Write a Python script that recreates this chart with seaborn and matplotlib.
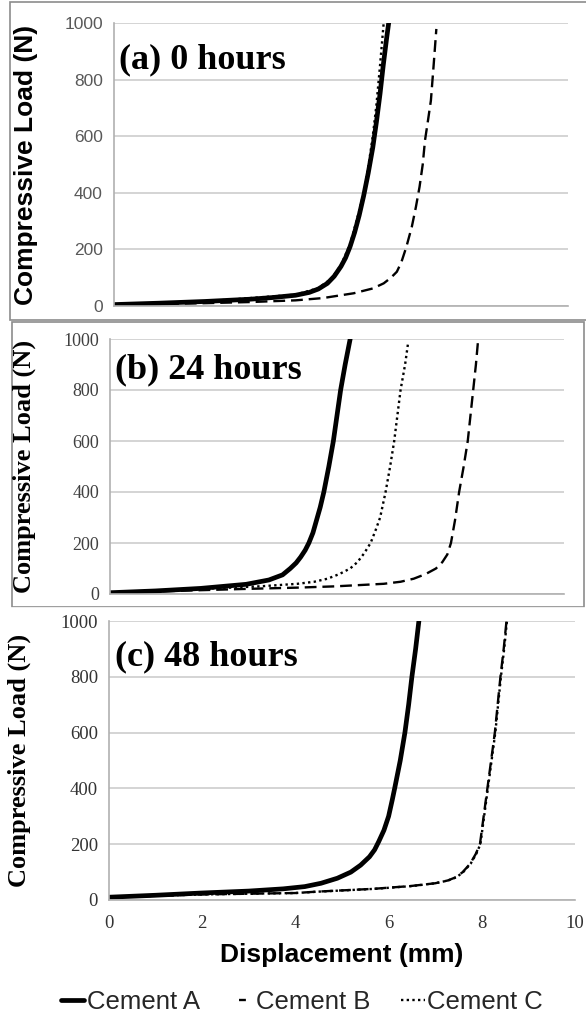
import numpy as np
import pandas as pd
import seaborn as sns
from matplotlib import pyplot as plt
from matplotlib.patches import Rectangle
from matplotlib.lines import Line2D

# ---- data (displacement mm, load N) ----
# (a) 0 hours
a0_x = [0, 1, 2, 3, 3.5, 4, 4.3, 4.5, 4.7, 4.85, 5.0, 5.1, 5.2, 5.3, 5.4, 5.5,
        5.6, 5.7, 5.78, 5.86, 5.93, 6.0, 6.05]
a0_y = [5, 10, 16, 24, 30, 38, 48, 60, 80, 105, 140, 170, 210, 260, 320, 390,
        470, 560, 650, 750, 850, 940, 1000]
b0_x = [0, 2, 3, 4, 4.6, 5.28, 5.7, 5.94, 6.1, 6.23, 6.33, 6.44, 6.56, 6.65,
        6.73, 6.8, 6.85, 6.92, 6.98, 7.04, 7.1]
b0_y = [4, 10, 14, 20, 28, 45, 62, 80, 100, 121, 155, 209, 280, 350, 421, 500,
        585, 660, 726, 850, 979]
c0_x = [0, 2, 4, 4.5, 4.8, 5.0, 5.2, 5.4, 5.5, 5.6, 5.7, 5.78, 5.86, 5.94]
c0_y = [5, 16, 40, 63, 98, 145, 218, 335, 400, 490, 600, 710, 850, 1000]

# (b) 24 hours
a24_x = [0, 1, 2, 3, 3.5, 3.8, 3.97, 4.1, 4.2, 4.3, 4.38, 4.47, 4.55, 4.63,
         4.71, 4.82, 4.92, 5.0, 5.08, 5.18, 5.29]
a24_y = [5, 12, 22, 38, 55, 75, 100, 122, 145, 172, 200, 240, 290, 340, 400,
         500, 600, 700, 800, 900, 1000]
b24_x = [0, 2, 3, 4.13, 4.96, 6.03, 6.4, 6.69, 6.95, 7.18, 7.32, 7.43, 7.51,
         7.6, 7.69, 7.79, 7.88, 7.94, 8.0, 8.06, 8.11]
b24_y = [5, 15, 20, 25, 30, 40, 48, 60, 78, 100, 125, 155, 200, 290, 400, 500,
         600, 700, 800, 900, 1000]
c24_x = [0, 1, 2, 3.3, 4.13, 4.5, 4.79, 5.05, 5.29, 5.45, 5.6, 5.74, 5.85,
         5.95, 6.07, 6.17, 6.26, 6.33, 6.4, 6.5, 6.57]
c24_y = [5, 12, 20, 30, 40, 48, 60, 78, 100, 125, 160, 200, 250, 300, 400,
         500, 600, 700, 800, 900, 990]

# (c) 48 hours
a48_x = [0, 1, 1.98, 3, 3.74, 4.2, 4.55, 4.9, 5.19, 5.4, 5.59, 5.7, 5.79, 5.9,
         6.0, 6.08, 6.13, 6.25, 6.35, 6.43, 6.5, 6.58, 6.65]
a48_y = [10, 17, 25, 32, 40, 48, 60, 78, 100, 125, 155, 180, 210, 250, 300,
         360, 400, 500, 600, 700, 800, 900, 1000]
b48_x = [0, 2, 4.0, 4.47, 5.67, 6.47, 7.0, 7.27, 7.45, 7.59, 7.75, 7.87, 7.96,
         8.04, 8.12, 8.2, 8.28, 8.34, 8.4, 8.47, 8.53]
b48_y = [10, 20, 25, 30, 40, 50, 60, 70, 82, 100, 130, 165, 200, 300, 400, 500,
         600, 700, 800, 900, 1000]
c48_x = [0, 2, 4.0, 4.5, 5.7, 6.5, 7.0, 7.28, 7.46, 7.6, 7.76, 7.88, 7.97,
         8.05, 8.13, 8.21, 8.29, 8.35, 8.41, 8.48, 8.54]
c48_y = [10, 20, 25, 30, 40, 50, 60, 70, 82, 100, 130, 165, 200, 300, 400, 500,
         600, 700, 800, 900, 1000]

x_ticks = [0, 2, 4, 6, 8, 10]
y_ticks = [0, 200, 400, 600, 800, 1000]
panel_titles = ['(a) 0 hours', '(b) 24 hours', '(c) 48 hours']
series_names = ['Cement A', 'Cement B', 'Cement C']

SANS = 'Liberation Sans'
SERIF = 'Liberation Serif'
W, H = 586, 1017

sns.set_style('white')
fig = plt.figure(figsize=(W / 100, H / 100), dpi=100)


def box(x0, y0, x1, y1):
    # pixel box (top-left origin) -> figure fraction rect
    return [x0 / W, 1 - y1 / H, (x1 - x0) / W, (y1 - y0) / H]


def frame(x0, y0, x1, y1, z, edge):
    r = Rectangle((x0 / W, 1 - y1 / H), (x1 - x0) / W, (y1 - y0) / H,
                  transform=fig.transFigure, facecolor='white',
                  edgecolor=edge, lw=1.2, zorder=z)
    fig.add_artist(r)


styles = {
    'Cement A': dict(lw=3.4, ls='-'),
    'Cement B': dict(lw=1.7, ls=(0, (5, 2.5))),
    'Cement C': dict(lw=1.7, ls=(0, (1, 1.4))),
}


def draw_panel(ax, curves, font, tick_size, tick_color, label_x, title, title_y):
    for name, (xs, ys) in curves.items():
        df = pd.DataFrame({'x': xs, 'y': ys})
        sns.lineplot(data=df, x='x', y='y', ax=ax, color='black',
                     estimator=None, sort=False, legend=False, **styles[name])
    ax.set_xlim(0, 10)
    ax.set_ylim(0, 1000)
    ax.set_xticks(x_ticks)
    ax.set_yticks(y_ticks)
    ax.grid(axis='y', color='#d4d4d4', lw=1.4)
    ax.grid(axis='x', visible=False)
    ax.set_axisbelow(True)
    for s in ['top', 'right']:
        ax.spines[s].set_visible(False)
    for s in ['left', 'bottom']:
        ax.spines[s].set_color('#b0b0b0')
        ax.spines[s].set_linewidth(1.2)
    ax.tick_params(axis='both', direction='out', length=5, width=1.1,
                   color='#b0b0b0', labelsize=tick_size, labelcolor=tick_color)
    ax.tick_params(axis='y', pad=3)
    for lab in ax.get_yticklabels() + ax.get_xticklabels():
        lab.set_family(font)
    ax.set_xlabel('')
    ax.set_ylabel('Compressive Load (N)', family=font, fontweight='bold',
                  fontsize=19, color='black')
    ax.yaxis.set_label_coords(label_x, 0.5)
    ax.text(0.12, title_y, title, family=SERIF, fontweight='bold',
            fontsize=26, color='black', va='baseline', ha='left')


# panel (a)
frame(10, 2, 620, 320, 0.5, '#8c8c8c')
ax_a = fig.add_axes(box(114, 23, 568, 306))
ax_a.set_zorder(1)
draw_panel(ax_a, {'Cement A': (a0_x, a0_y), 'Cement B': (b0_x, b0_y),
                  'Cement C': (c0_x, c0_y)},
           SANS, 12.5, '#595959', -0.168, panel_titles[0], 840)
ax_a.set_xticklabels([])

# panel (b)
frame(12, 322, 584, 607, 2, '#8c8c8c')
ax_b = fig.add_axes(box(110, 339, 564, 594))
ax_b.set_zorder(3)
draw_panel(ax_b, {'Cement A': (a24_x, a24_y), 'Cement B': (b24_x, b24_y),
                  'Cement C': (c24_x, c24_y)},
           SERIF, 13, '#404040', -0.163, panel_titles[1], 845)
ax_b.set_xticklabels([])

# panel (c)
frame(-5, 608, W + 5, H + 5, 4, 'white')
ax_c = fig.add_axes(box(109, 621, 575, 900))
ax_c.set_zorder(5)
draw_panel(ax_c, {'Cement A': (a48_x, a48_y), 'Cement B': (b48_x, b48_y),
                  'Cement C': (c48_x, c48_y)},
           SERIF, 13.5, '#333333', -0.168, panel_titles[2], 842)
ax_c.tick_params(axis='x', pad=6)
ax_c.set_xlabel('Displacement (mm)', family=SANS, fontweight='bold',
                fontsize=19, color='black', labelpad=8)

# legend: B shows as a single short dash, C as a row of dots
leg_styles = {
    'Cement A': dict(lw=3.4, ls='-'),
    'Cement B': dict(lw=1.7, ls=(9.5, (2.9, 10))),
    'Cement C': dict(lw=1.7, ls=(0, (1, 1.4))),
}
handles = [Line2D([], [], color='black', **leg_styles[n]) for n in series_names]
leg = fig.legend(handles, series_names, loc='center',
                 bbox_to_anchor=(302 / W, 1 - 1002 / H), ncol=3, frameon=False,
                 prop={'family': SANS, 'size': 18.5}, handlelength=0.9,
                 handletextpad=0.1, columnspacing=1.2)
leg.set_zorder(6)

fig.savefig('out.png', dpi=100)
